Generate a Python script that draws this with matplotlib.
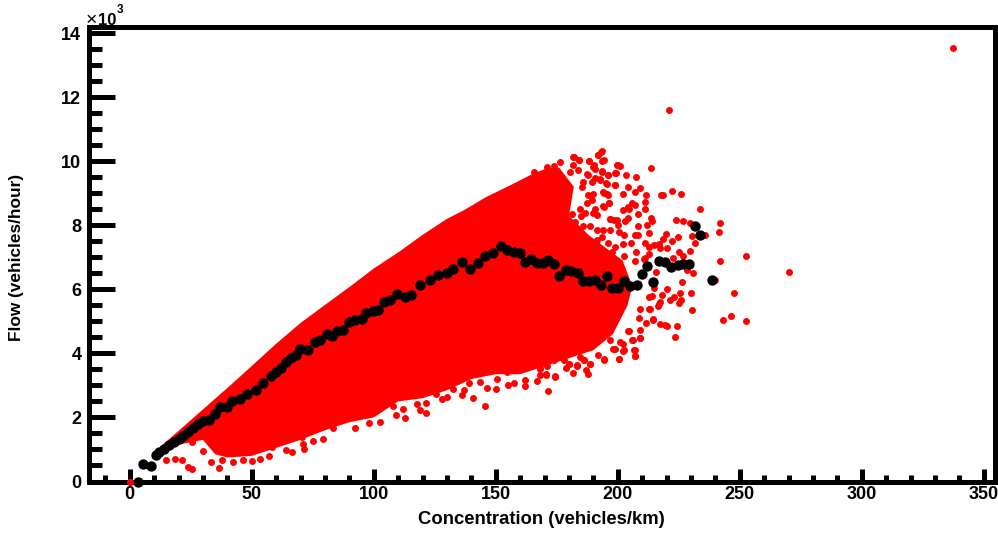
import matplotlib
matplotlib.use("Agg")
import matplotlib.pyplot as plt
from matplotlib.ticker import MultipleLocator, FuncFormatter

#Body of the red cloud (outline, vehicles/km and vehicles/hour)
cloud_x=[12,20,30,40,45,60,70,78,90,100,110,120,130,137,146,156,165,171,176,182,180,188,195,202,206,204,198,
         190,180,170,160,150,140,130,120,110,100,90,80,70,60,50,40,35,30,20]
cloud_y=[1050,1580,2250,2920,3260,4300,4950,5400,6070,6650,7150,7700,8200,8470,8880,9250,9600,9780,9800,9200,8300,7700,7300,6900,6100,5500,4600,
         4100,3850,3600,3350,3350,3200,2850,2600,2500,2000,1850,1600,1300,1050,800,750,850,1300,1150]

#Separate red points around the edge of the cloud
red_x=[193.2,191.7,182.1,184.3,188.3,194.2,176.4,190.3,199.9,201,213.8,165.5,190.7,193.5,187.6,199.2,203.4,207.3,195.8,192.8,
       195.5,198.7,204.1,209.2,206.9,202.2,211.5,194.2,195.9,217.8,218.7,222.4,225.8,196.5,211.1,206,207,194.2,204,202.2,
       204.8,211.1,233.6,208.1,191.4,213.5,214.1,223.9,226.7,229.7,241.7,241.3,196.7,198.4,204,202.9,200.3,208.4,211.9,212.7,
       200.7,202.6,207.1,208.1,219.7,218.5,222.3,224.7,230.5,235.8,231.6,205.4,202.2,211.2,212.6,215,217.1,217.4,220.1,229.7,
       225,226.9,207.5,212.7,211.2,202.6,222.8,252.6,207.1,210.8,242.1,215.7,228.3,231,239.9,226.5,215,220.1,230.1,247.8,
       225.4,223.1,221.5,226,225.2,214,218.1,217.4,216.4,213,230.5,243.3,246.3,252.6,214.6,217.4,220.1,224.3,223.5,211.6,
       209.2,204.1,209.2,206,207.1,206.9,202.2,200.6,194.2,188.7,188,186.9,183.2,180.2,178.6,181.6,174.3,170.7,168.2,170.9,
       168.2,163,168.5,173.7,177.8,186,191.7,198.2,201,202.3,170.9,173.7,180.5,
       337.5,221,270,0,
       14.8,18.6,21.3,24,25.5,30.2,33.2,36.7,50,57,63.9,66.6,71.6,70.9,75.2,79.1,37.7,42.5,46.6,53.4,58.2,63,70.5,25.4,
       145.6,171.6,174.3,162,157.6,155.2,150,146.3,143.6,140.8,139.1,136,137,132.6,129.9,127.9,125.5,121.3,121.3,119,
       117.9,114.2,110.5,108,111.9,109.3,112.7,102.6,98.2,92.3,83.5,73.9,165.4,170.9,168.2,170.5,166.8,162,154.5,147.7,150.4,
       181.8,184.3,188.4,190,193.4,191.8,193.4,199.6,181.8,183.6,187.3,190.7,193.4,195.8,198.9,192.8,198.9,195.2,189.3,185.9,
       185.3,190,193.9,195.5,188,189.3,187.3,190.7,193.9,196.5,184.6,186.6,184.8,190,181.2,182.5,179.8,185.9,188.7,196.9,
       199.6,194.1,196.9,191.4,193.4,191.4,195.9,198.9,197.5,
       219.4,213.3,216.7,212.6,209.2,208.5,214.6,204.4,209.2,206.2,206.7,207.1,202.4,200.7,194.2,196.9,199,184.6,186,188.7,183.2,180.2]
red_y=[10290,10190,10140,10030,10000,10030,9980,9880,9880,9860,9790,9650,9770,9680,9580,9620,9560,9500,9560,9410,
       9300,9270,9180,9150,9030,8970,8940,9010,8940,8940,8950,9060,8970,8700,8740,8710,8640,8580,8580,8470,
       8500,8520,8520,8340,8330,8220,8140,8180,8120,8080,8080,7790,8210,8180,8240,8120,8020,7970,8000,7760,
       7790,7700,7700,7700,7730,7580,7520,7640,7670,7700,7440,7440,7410,7440,7330,7380,7420,7290,7290,7200,
       7150,7050,7150,7110,6990,7030,6990,7050,6880,6960,6880,6550,6590,6520,6280,6230,6040,6020,5900,5900,
       5880,5760,5680,5660,5580,5790,5830,5600,5480,5380,5340,5050,5170,5010,5060,4930,4870,4870,4510,4960,
       4720,4690,4480,4410,4110,3930,4090,3840,3800,3660,3360,3490,3600,3680,3540,3400,3280,3360,3540,3600,
       3310,3910,3950,3780,3780,3780,3940,4130,4350,4300,9820,9840,9670,
       13530,11590,6530,0,
       680,700,680,450,375,950,620,420,630,790,980,910,1000,1180,1260,1330,660,600,660,710,1070,1280,1380,1230,
       2360,2840,3270,2980,3080,3010,2900,2930,3110,2610,3080,2690,2870,2900,2640,2570,2720,2150,2450,2220,
       2410,2790,2720,2350,2270,2070,1970,1860,1840,1680,1680,1650,3680,3810,3520,3320,3130,3160,3420,3450,3210,
       10140,10030,10010,9830,10010,10190,10320,9880,9880,9740,9600,9490,9670,9570,9620,9430,9270,9310,9360,9360,
       9200,8990,9050,8990,8940,8780,8680,8520,8600,8710,8520,8390,8290,8370,8350,8110,8000,7970,7970,8210,
       8160,7850,7850,7850,7620,7550,7450,7330,7170,
       4880,5400,5550,5760,5400,5090,5050,4700,4490,4430,4100,3920,4100,3840,3810,4410,4150,3890,3780,3660,3630,3680]

#Black profile points
prof_x=[3.5,5.6,8.7,10.8,12,14,16,18,20,22,24,26,28,30,32.6,35,37,39.7,41.8,45.2,47.9,51.8,54.6,58,60,62,64,66,68,69.8,
        73,75.9,78,80.7,83,85,87.5,90,92.4,95,97,99.6,101.8,104,106.6,109.5,112.8,115.3,119,123,126.3,130,132.5,136,139.5,
        142.7,145.6,149,152,154.8,157.5,160,162,164.3,166.8,169.2,171.5,173.8,176,178.7,181,183.8,185.9,188.2,190.7,193.1,
        195.4,197.8,200.2,202.6,205,207.7,210,212.1,214.5,217,219.3,221.8,224.5,226.9,229.3,231.7,233.9,238.5]
prof_y=[0,550,470,840,920,1000,1140,1240,1320,1420,1540,1660,1800,1900,1930,2100,2340,2320,2500,2580,2740,2870,3070,3300,3420,3550,3720,3850,3950,4150,
        4120,4350,4430,4620,4530,4700,4720,4980,5030,5080,5260,5310,5340,5600,5660,5850,5750,5820,6120,6280,6440,6500,6650,6840,6650,
        6810,7030,7120,7340,7220,7160,7120,6850,6960,6820,6820,6930,6800,6430,6600,6560,6520,6250,6250,6280,6120,
        6410,6040,6040,6260,6090,6150,6490,6720,6230,6880,6850,6700,6770,6780,6780,7970,7700,6280]

plt.rcParams['font.family']=['Liberation Sans','DejaVu Sans']
fig=plt.figure(figsize=(9.98,5.33),dpi=100)
W,H=998.0,533.0
ax=fig.add_axes([89/W,1-481.5/H,(995-89)/W,(481.5-26.7)/H])

ax.fill(cloud_x,cloud_y,color='#ff0000',linewidth=0,zorder=3)
ax.scatter(red_x,red_y,s=25,c='#ff0000',linewidths=0,zorder=3,clip_on=False)
ax.scatter(prof_x,prof_y,s=56,c='black',linewidths=0,zorder=4,clip_on=False)
#The point at the origin sits on top of the black one
ax.scatter(red_x[red_y.index(0)],0,s=25,c='#ff0000',linewidths=0,zorder=5,clip_on=False)

ax.set_xlim(-16.7,354.6)
ax.set_ylim(0,14200)
ax.xaxis.set_major_locator(MultipleLocator(50))
ax.xaxis.set_minor_locator(MultipleLocator(10))
ax.yaxis.set_major_locator(MultipleLocator(2000))
ax.yaxis.set_minor_locator(MultipleLocator(500))
ax.yaxis.set_major_formatter(FuncFormatter(lambda v,p: "%d"%(v/1000)))

#Widths and lengths are in points: 1 px is 0.72 pt at this dpi
for side in ax.spines:
    ax.spines[side].set_linewidth(3.6)
ax.tick_params(axis='x',which='major',direction='in',length=9.7,width=3.6,pad=3.5,labelsize=13)
ax.tick_params(axis='x',which='minor',direction='in',length=4.9,width=3.6)
ax.tick_params(axis='y',which='major',direction='in',length=19,width=3.6,pad=5.5,labelsize=13)
ax.tick_params(axis='y',which='minor',direction='in',length=9.5,width=3.6)
for lab in ax.get_xticklabels()+ax.get_yticklabels():
    lab.set_fontweight('bold')

fig.text(541/W,1-519/H,"Concentration (vehicles/km)",fontsize=13.3,fontweight='bold',ha='center',va='center')
fig.text(17/W,1-257/H,"Flow (vehicles/hour)",fontsize=12.4,fontweight='bold',rotation=90,ha='center',va='center')
#Scale factor above the y axis
fig.text(86/W,1-25/H,"\u00d7",fontsize=14,ha='left',va='baseline')
fig.text(98/W,1-25/H,"10",fontsize=12,fontweight='bold',ha='left',va='baseline')
fig.text(117/W,1-13.3/H,"3",fontsize=8.4,fontweight='bold',ha='left',va='baseline')

fig.savefig('out.png',dpi=100)
